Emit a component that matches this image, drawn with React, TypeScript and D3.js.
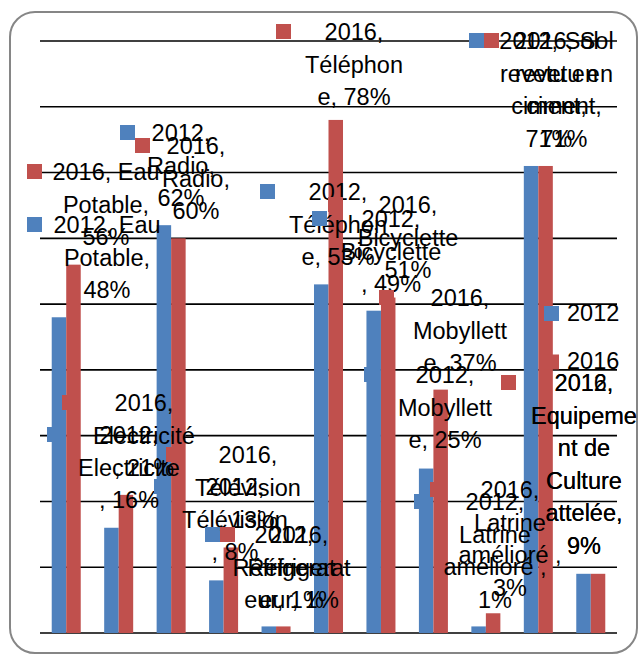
import React from "react";
import * as d3 from "d3";

const categories = [
  "Eau Potable",
  "Electricité",
  "Radio",
  "Télévision",
  "Réfrigérateur",
  "Téléphone",
  "Bicyclette",
  "Mobyllette",
  "Latrine amélioré",
  "Sol revetu en ciment",
  "Equipement de Culture attelée",
];
const seriesNames = ["2012", "2016"];
const values2012 = [48, 16, 62, 8, 1, 53, 49, 25, 1, 71, 9];
const values2016 = [56, 21, 60, 13, 1, 78, 51, 37, 3, 71, 9];
const gridTicks = [0, 10, 20, 30, 40, 50, 60, 70, 80, 90];
const seriesColors = ["#4F81BD", "#C0504D"];

// data labels as wrapped and placed in the original chart
const labels2012 = [
  { lines: ["2012, Eau", "Potable,", "48%"], cx: 107, y: 233, kx: 27 },
  { lines: ["2012,", "Electricité", ", 16%"], cx: 129, y: 443, kx: 47 },
  { lines: ["2012,", "Radio,", "62%"], cx: 181, y: 141, kx: 120 },
  { lines: ["2012,", "Télévision", ", 8%"], cx: 235, y: 495, kx: 154 },
  { lines: ["2012,", "Réfrigerat", "eur, 1%"], cx: 284, y: 543, kx: 205 },
  { lines: ["2012,", "Téléphon", "e, 53%"], cx: 338, y: 200, kx: 260 },
  { lines: ["2012,", "Bicyclette", ", 49%"], cx: 391, y: 227, kx: 312 },
  { lines: ["2012,", "Mobyllett", "e, 25%"], cx: 445, y: 383, kx: 364 },
  { lines: ["2012,", "Latrine", "amélioré ,", "1%"], cx: 495, y: 510, kx: 414 },
  { lines: ["2012, Sol", "revetu en", "ciment,", "71%"], cx: 549, y: 49, kx: 469 },
  { lines: ["2012,", "Equipeme", "nt de", "Culture", "attelée,", "9%"], cx: 584, y: 391, kx: 501 },
];
const labels2016 = [
  { lines: ["2016, Eau", "Potable,", "56%"], cx: 106, y: 180, kx: 27 },
  { lines: ["2016,", "Electricité", ", 21%"], cx: 144, y: 411, kx: 62 },
  { lines: ["2016,", "Radio,", "60%"], cx: 196, y: 154, kx: 135 },
  { lines: ["2016,", "Télévision", ", 13%"], cx: 248, y: 463, kx: 166 },
  { lines: ["2016,", "Réfrigerat", "eur, 1%"], cx: 299, y: 543, kx: 220 },
  { lines: ["2016,", "Téléphon", "e, 78%"], cx: 354, y: 40, kx: 276 },
  { lines: ["2016,", "Bicyclette", "51%"], cx: 408, y: 213, kx: 328 },
  { lines: ["2016,", "Mobyllett", "e, 37%"], cx: 460, y: 306, kx: 379 },
  { lines: ["2016,", "Latrine", "amélioré ,", "3%"], cx: 510, y: 498, kx: 430 },
  { lines: ["2016, Sol", "revetu en", "ciment,", "71%"], cx: 564, y: 49, kx: 484 },
  { lines: ["2016,", "Equipeme", "nt de", "Culture", "attelée,", "9%"], cx: 584, y: 391, kx: 501 },
];

const W = 639;
const H = 656;
const plot = { left: 40, right: 617, top: 41, bottom: 633 };
const FONT = "'Liberation Sans', Arial, sans-serif";
const FS = 23.5;
const LH = 32.5;
const KEY = 15;

export default function App() {
  const x = d3
    .scaleBand<string>()
    .domain(categories)
    .range([plot.left, plot.right])
    .paddingInner(0)
    .paddingOuter(0);
  const y = d3.scaleLinear().domain([0, 90]).range([plot.bottom, plot.top]);
  const groupW = x.bandwidth() * 0.553;
  const xs = d3
    .scaleBand<string>()
    .domain(seriesNames)
    .range([-groupW / 2, groupW / 2]);

  const allValues = [values2012, values2016];
  const allLabels = [labels2012, labels2016];

  return (
    <svg
      width={W}
      height={H}
      style={{ position: "absolute", left: 0, top: 0, background: "#fff" }}
      fontFamily={FONT}
    >
      <rect x={0} y={0} width={W} height={H} fill="#fff" />
      <rect
        x={10}
        y={12}
        width={627}
        height={641}
        rx={25}
        ry={25}
        fill="#fff"
        stroke="#868686"
        strokeWidth={2}
      />
      {gridTicks.map((t) => (
        <line
          key={"g" + t}
          x1={plot.left}
          x2={plot.right}
          y1={y(t)}
          y2={y(t)}
          stroke="#000"
          strokeWidth={1.6}
        />
      ))}
      {allValues.map((vals, si) =>
        vals.map((v, ci) => {
          const cx = (x(categories[ci]) as number) + x.bandwidth() / 2;
          const bx = cx + (xs(seriesNames[si]) as number);
          return (
            <rect
              key={"b" + si + "-" + ci}
              x={bx}
              y={y(v)}
              width={xs.bandwidth()}
              height={y(0) - y(v)}
              fill={seriesColors[si]}
            />
          );
        })
      )}
      {allLabels.map((labs, si) =>
        labs.map((lab, li) => (
          <g key={"l" + si + "-" + li}>
            <rect
              x={lab.kx}
              y={lab.y - 16}
              width={KEY}
              height={KEY}
              fill={seriesColors[si]}
            />
            <text
              textAnchor="middle"
              fontSize={FS}
              fill="#000"
            >
              {lab.lines.map((ln, k) => (
                <tspan key={k} x={lab.cx} y={lab.y + k * LH}>
                  {ln}
                </tspan>
              ))}
            </text>
          </g>
        ))
      )}
      {seriesNames.map((s, si) => (
        <g key={"leg" + s}>
          <rect
            x={544}
            y={306 + si * 48.5}
            width={KEY}
            height={KEY}
            fill={seriesColors[si]}
          />
          <text x={567} y={321 + si * 47.5} fontSize={FS} fill="#000">
            {s}
          </text>
        </g>
      ))}
    </svg>
  );
}
